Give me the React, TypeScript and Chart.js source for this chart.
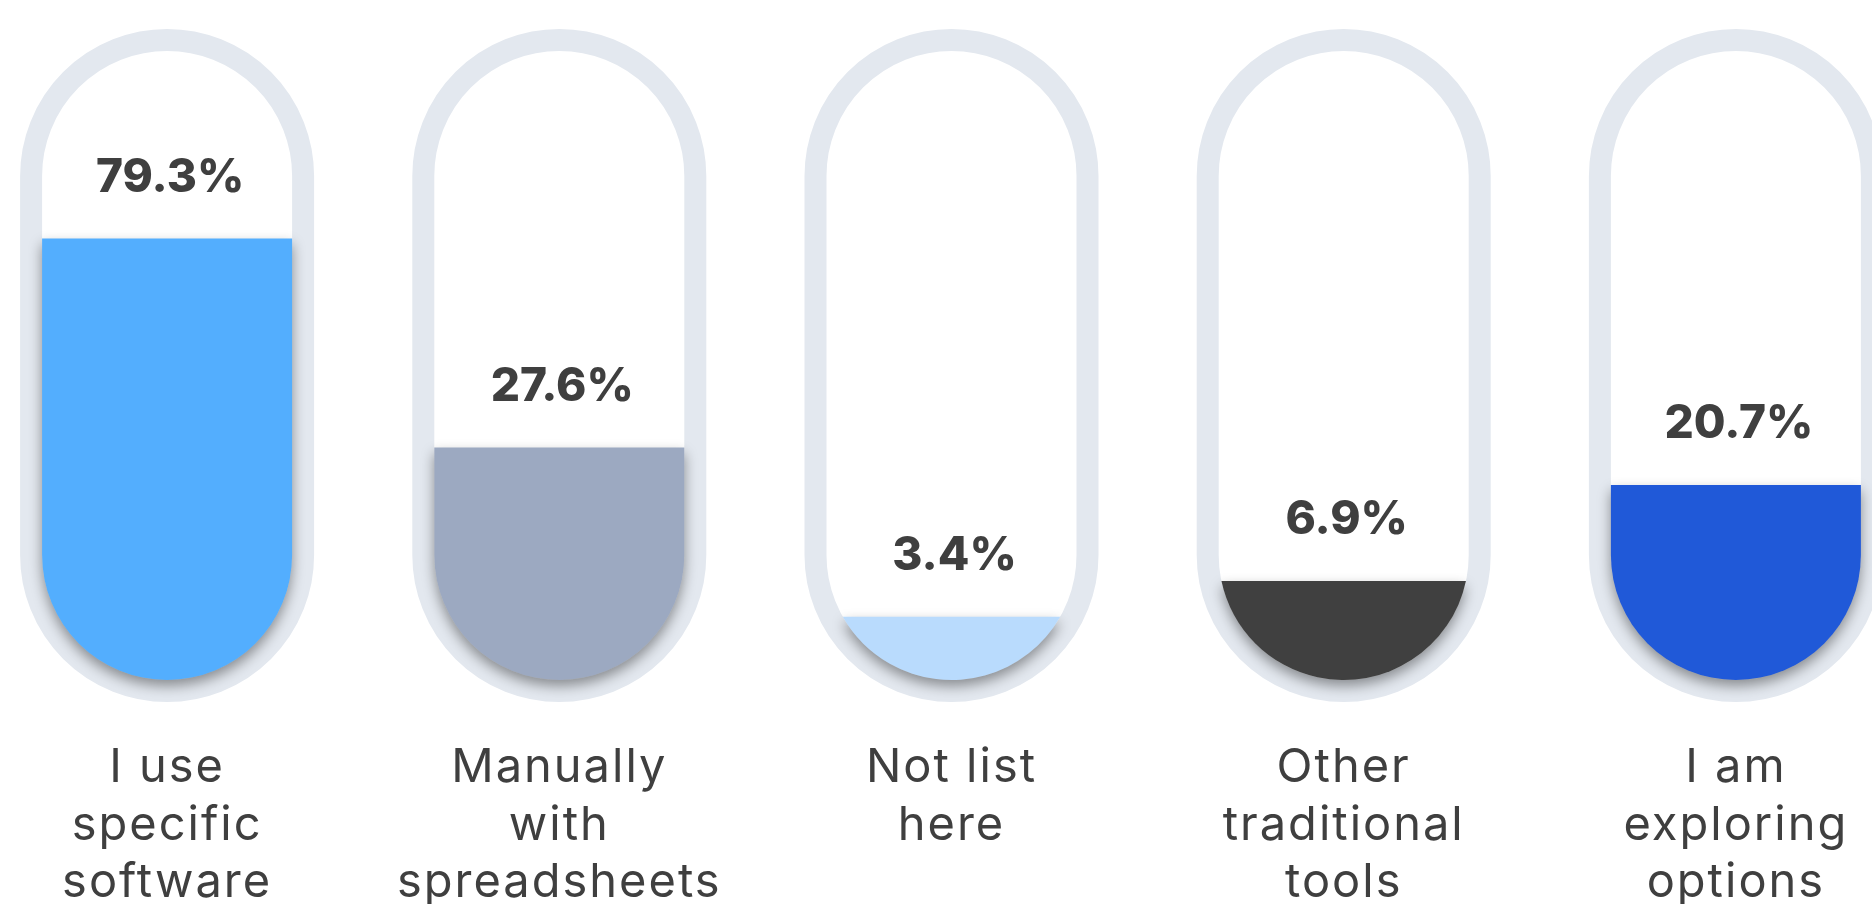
import React, { useEffect, useRef } from 'react';
import { Chart, registerables, LinearScale } from 'chart.js';

// ---------- data ----------
const categories: string[][] = [
  ['I use', 'specific', 'software'],
  ['Manually', 'with', 'spreadsheets'],
  ['Not list', 'here'],
  ['Other', 'traditional', 'tools'],
  ['I am', 'exploring', 'options'],
];
const values: number[] = [79.3, 27.6, 3.4, 6.9, 20.7];
const fillColors: string[] = ['#53aefe', '#9ca9c1', '#b9dbfd', '#404040', '#2059d8'];

// ---------- style constants ----------
const RING_COLOR = '#e3e8ef';
const TEXT_COLOR = '#3f3f3f';
const INNER_R = 125;
const RING_W = 22;
const TOP_CY = 176;
const BOT_CY = 555;
const GAMMA = 0.6;

// power scale (fill level follows a power curve)
class PowScale extends LinearScale {
  static id = 'pow';
  static defaults = { ...(LinearScale as any).defaults };
  getPixelForValue(value: number) {
    if (value === null || value === undefined || isNaN(value)) return NaN;
    const self: any = this;
    const range = self.max - self.min;
    const d = Math.pow(Math.max(value - self.min, 0) / range, GAMMA);
    return self.getPixelForDecimal(d);
  }
  getValueForPixel(pixel: number) {
    const self: any = this;
    const d = self.getDecimalForPixel(pixel);
    return self.min + Math.pow(Math.max(d, 0), 1 / GAMMA) * (self.max - self.min);
  }
}

Chart.register(...registerables, PowScale as any);

function capsulePath(ctx: CanvasRenderingContext2D, x: number, r: number) {
  ctx.moveTo(x - r, BOT_CY);
  ctx.lineTo(x - r, TOP_CY);
  ctx.arc(x, TOP_CY, r, Math.PI, 0);
  ctx.lineTo(x + r, BOT_CY);
  ctx.arc(x, BOT_CY, r, 0, Math.PI);
  ctx.closePath();
}

function fillPath(ctx: CanvasRenderingContext2D, x: number, top: number, r: number) {
  if (top <= BOT_CY) {
    ctx.moveTo(x - r, top);
    ctx.lineTo(x + r, top);
    ctx.lineTo(x + r, BOT_CY);
    ctx.arc(x, BOT_CY, r, 0, Math.PI);
    ctx.closePath();
  } else {
    const dy = Math.min(top - BOT_CY, r - 0.5);
    const a = Math.asin(dy / r);
    ctx.arc(x, BOT_CY, r, a, Math.PI - a);
    ctx.closePath();
  }
}

const capsulePlugin = {
  id: 'capsules',
  beforeDatasetsDraw(chart: any) {
    const ctx: CanvasRenderingContext2D = chart.ctx;
    const meta = chart.getDatasetMeta(0);
    meta.data.forEach((el: any) => {
      ctx.save();
      ctx.beginPath();
      capsulePath(ctx, el.x, INNER_R + RING_W / 2);
      ctx.lineWidth = RING_W;
      ctx.strokeStyle = RING_COLOR;
      ctx.stroke();
      ctx.restore();
    });
  },
  beforeDatasetDraw(chart: any) {
    const ctx: CanvasRenderingContext2D = chart.ctx;
    const meta = chart.getDatasetMeta(0);
    meta.data.forEach((el: any, i: number) => {
      const r = el.width / 2;
      ctx.save();
      ctx.beginPath();
      fillPath(ctx, el.x, el.y, r);
      ctx.shadowColor = 'rgba(0,0,0,0.4)';
      ctx.shadowBlur = 13;
      ctx.shadowOffsetY = 6;
      ctx.fillStyle = fillColors[i];
      ctx.fill();
      ctx.restore();
    });
    return false;
  },
  afterDatasetsDraw(chart: any) {
    const ctx: CanvasRenderingContext2D = chart.ctx;
    const meta = chart.getDatasetMeta(0);
    meta.data.forEach((el: any, i: number) => {
      ctx.save();
      ctx.fillStyle = TEXT_COLOR;
      ctx.textAlign = 'center';
      ctx.textBaseline = 'alphabetic';
      ctx.font = '800 46px Inter, "Open Sans", sans-serif';
      ctx.fillText(values[i].toFixed(1) + '%', el.x + 3, el.y - 47);
      ctx.font = '400 47px Inter, "Open Sans", sans-serif';
      try { (ctx as any).letterSpacing = '2px'; } catch (e) {}
      categories[i].forEach((line, j) => {
        ctx.fillText(line, el.x, 782 + j * 57.5);
      });
      ctx.restore();
    });
  },
};

export default function App() {
  const ref = useRef<HTMLCanvasElement | null>(null);
  useEffect(() => {
    if (!ref.current) return;
    const chart = new Chart(ref.current, {
      type: 'bar',
      data: {
        labels: categories.map((c) => c.join(' ')),
        datasets: [
          {
            data: values,
            backgroundColor: fillColors,
            barThickness: INNER_R * 2,
          },
        ],
      },
      options: {
        responsive: false,
        animation: false,
        devicePixelRatio: 1,
        layout: { padding: { top: 172, bottom: 220, left: 0, right: 0 } },
        plugins: { legend: { display: false }, tooltip: { enabled: false } },
        scales: {
          x: { type: 'category', display: false },
          y: { type: 'pow' as any, min: 0, max: 100, display: false },
        },
      },
      plugins: [capsulePlugin],
    });
    return () => chart.destroy();
  }, []);
  return (
    <div
      style={{
        position: 'fixed',
        left: 0,
        top: 0,
        width: 1872,
        height: 904,
        overflow: 'hidden',
        background: '#ffffff',
      }}
    >
      <canvas ref={ref} width={1961} height={904} style={{ position: 'absolute', left: -29, top: 0 }} />
    </div>
  );
}
